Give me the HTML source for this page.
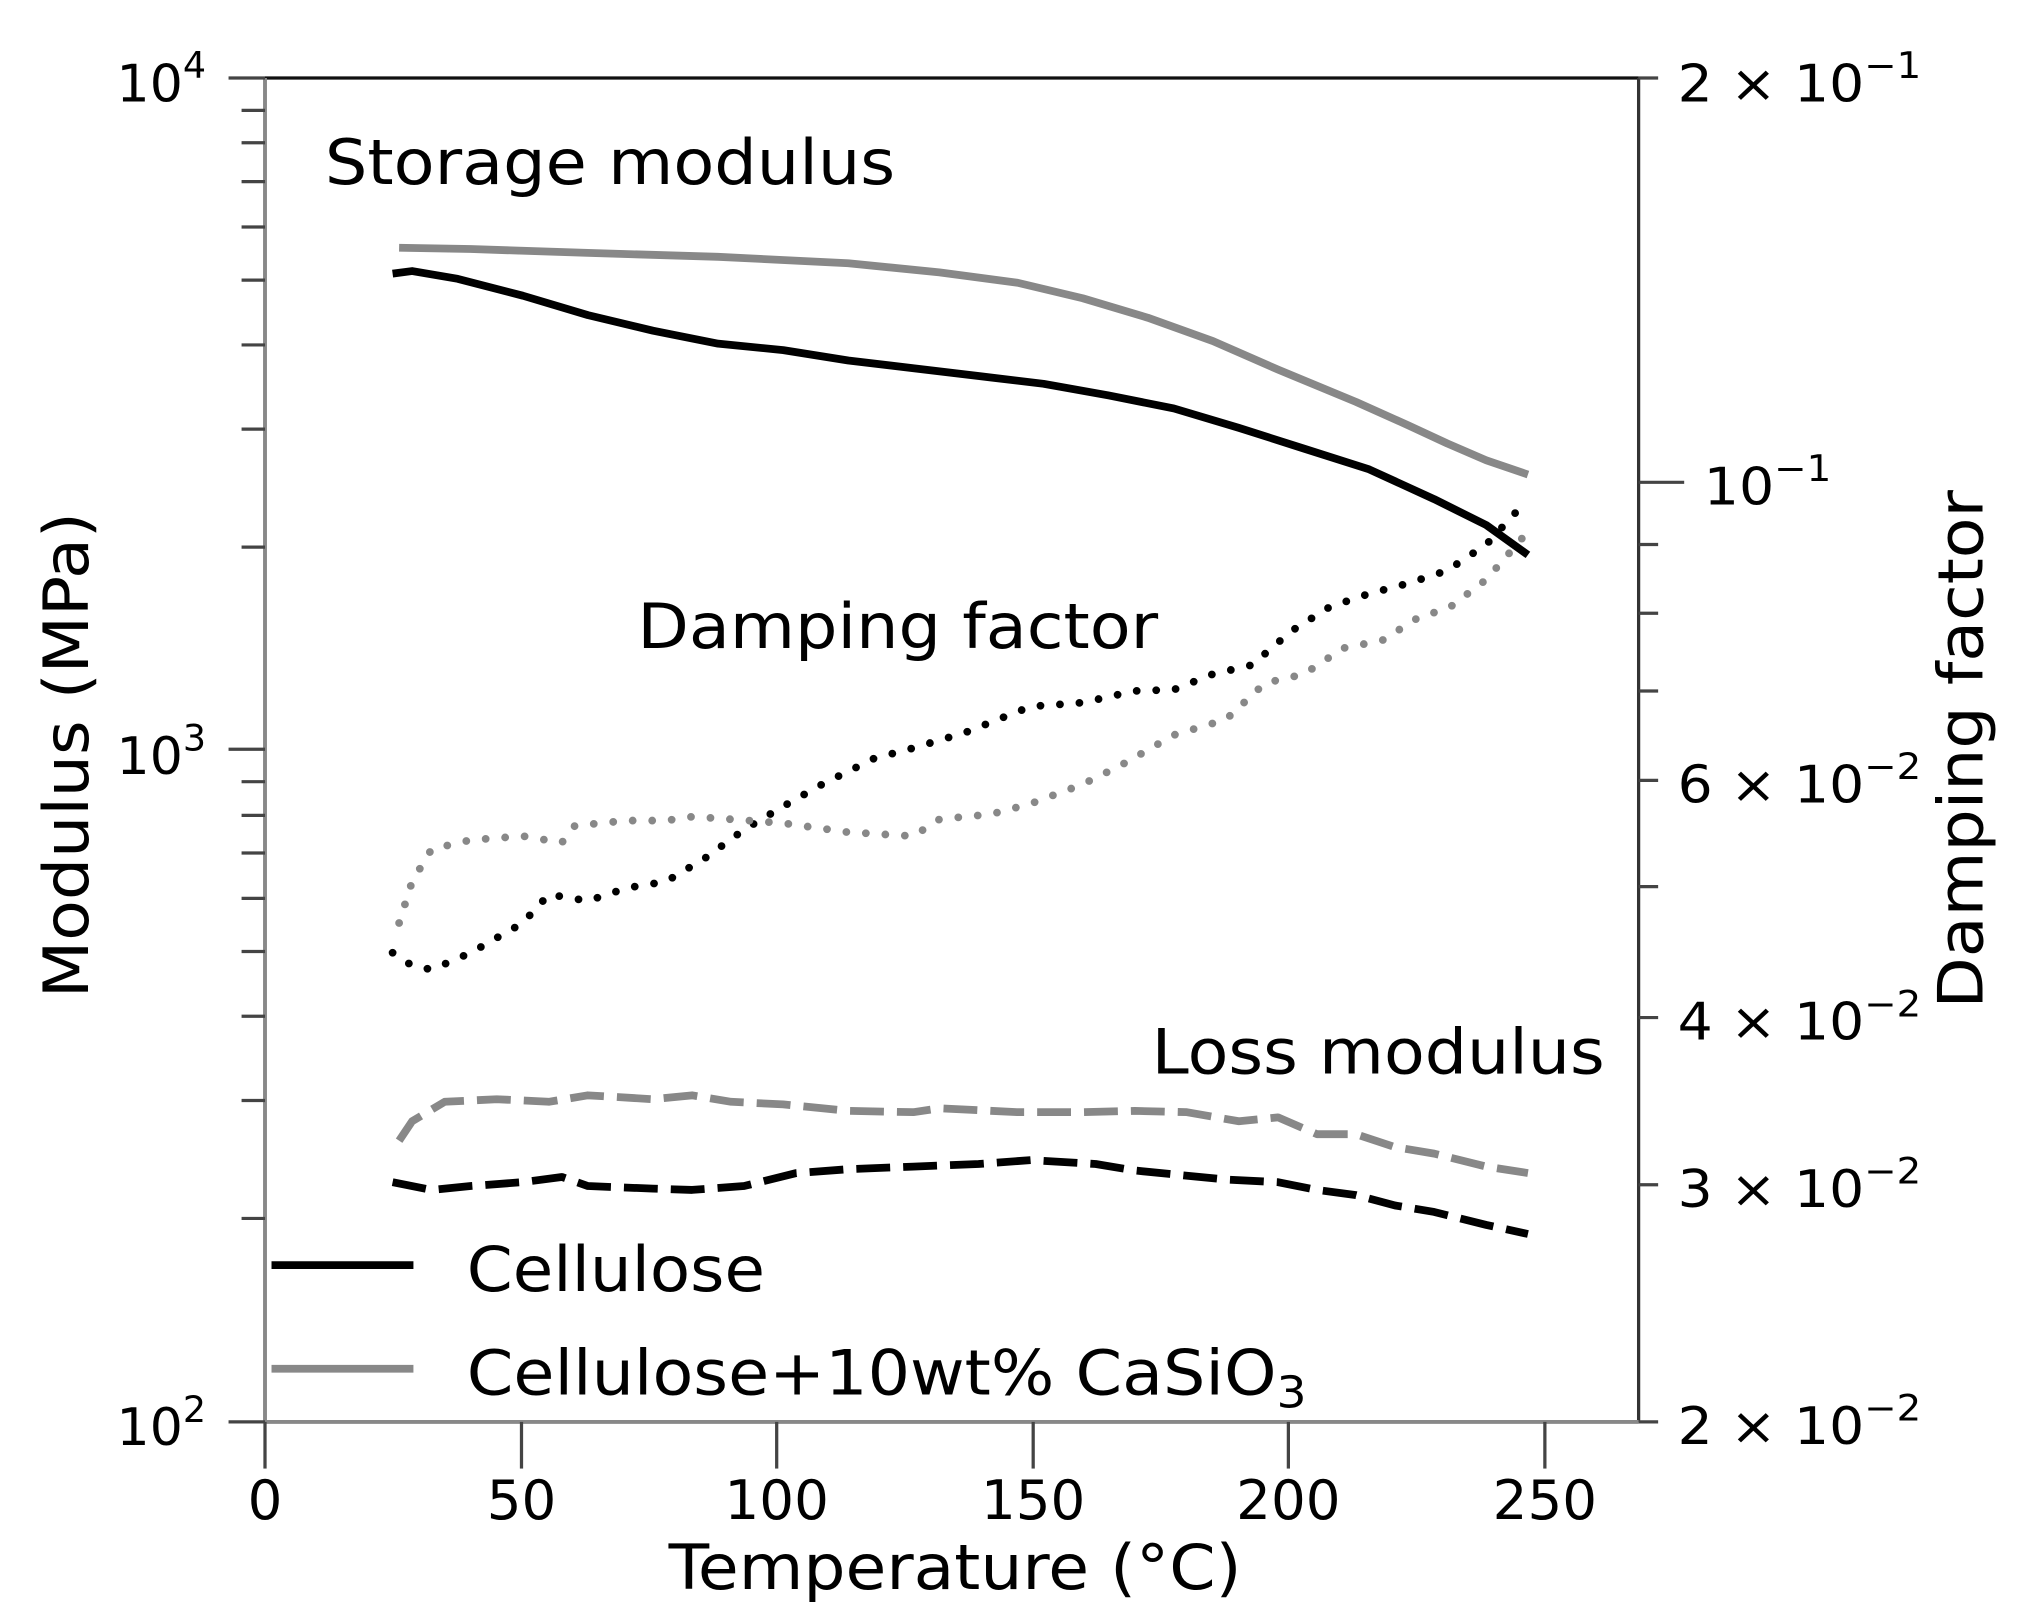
<!DOCTYPE html>
<html><head><meta charset="utf-8"><style>
html,body{margin:0;padding:0;background:#fff;}
svg{display:block;}
text{font-family:"DejaVu Sans","Liberation Sans",sans-serif;fill:#000;}
</style></head><body>
<svg width="2032" height="1613" viewBox="0 0 2032 1613" xmlns="http://www.w3.org/2000/svg">
<g transform="matrix(1.302 0 0 1.296 2 0.2)">
<line x1="202" y1="60" x2="1257" y2="60" stroke="#111" stroke-width="2.5"/>
<line x1="1257" y1="60" x2="1257" y2="1097" stroke="#333" stroke-width="2.5"/>
<line x1="202" y1="60" x2="202" y2="1097" stroke="#888" stroke-width="3"/>
<line x1="202" y1="1097" x2="1257" y2="1097" stroke="#888" stroke-width="3"/>
<g stroke="#444" stroke-width="2.5">
<line x1="174" y1="60" x2="202" y2="60"/><line x1="174" y1="578" x2="202" y2="578"/><line x1="174" y1="1097" x2="202" y2="1097"/>
<line x1="184" y1="85" x2="202" y2="85"/><line x1="184" y1="110" x2="202" y2="110"/><line x1="184" y1="140" x2="202" y2="140"/><line x1="184" y1="175" x2="202" y2="175"/><line x1="184" y1="216" x2="202" y2="216"/><line x1="184" y1="266" x2="202" y2="266"/><line x1="184" y1="331" x2="202" y2="331"/><line x1="184" y1="422" x2="202" y2="422"/>
<line x1="184" y1="603" x2="202" y2="603"/><line x1="184" y1="629" x2="202" y2="629"/><line x1="184" y1="658" x2="202" y2="658"/><line x1="184" y1="693" x2="202" y2="693"/><line x1="184" y1="734" x2="202" y2="734"/><line x1="184" y1="784" x2="202" y2="784"/><line x1="184" y1="849" x2="202" y2="849"/><line x1="184" y1="940" x2="202" y2="940"/>
</g>
<g font-size="40">
<text x="88" y="78">10<tspan dy="-18" font-size="28">4</tspan></text>
<text x="88" y="597">10<tspan dy="-18" font-size="28">3</tspan></text>
<text x="88" y="1115">10<tspan dy="-18" font-size="28">2</tspan></text>
</g>
<g stroke="#444" stroke-width="2.5">
<line x1="1257" y1="60" x2="1272" y2="60"/><line x1="1257" y1="372" x2="1292" y2="372"/><line x1="1257" y1="420" x2="1272" y2="420"/><line x1="1257" y1="473" x2="1272" y2="473"/><line x1="1257" y1="533" x2="1272" y2="533"/><line x1="1257" y1="602" x2="1272" y2="602"/><line x1="1257" y1="684" x2="1272" y2="684"/><line x1="1257" y1="785" x2="1272" y2="785"/><line x1="1257" y1="914" x2="1272" y2="914"/><line x1="1257" y1="1097" x2="1272" y2="1097"/>
</g>
<g font-size="40">
<text x="1287" y="78" textLength="187" lengthAdjust="spacingAndGlyphs">2 × 10<tspan dy="-18" font-size="28">−1</tspan></text>
<text x="1307" y="389" textLength="98" lengthAdjust="spacingAndGlyphs">10<tspan dy="-18" font-size="28">−1</tspan></text>
<text x="1287" y="619" textLength="187" lengthAdjust="spacingAndGlyphs">6 × 10<tspan dy="-18" font-size="28">−2</tspan></text>
<text x="1287" y="802" textLength="187" lengthAdjust="spacingAndGlyphs">4 × 10<tspan dy="-18" font-size="28">−2</tspan></text>
<text x="1287" y="931" textLength="187" lengthAdjust="spacingAndGlyphs">3 × 10<tspan dy="-18" font-size="28">−2</tspan></text>
<text x="1287" y="1114" textLength="187" lengthAdjust="spacingAndGlyphs">2 × 10<tspan dy="-18" font-size="28">−2</tspan></text>
</g>
<g stroke="#444" stroke-width="2.5">
<line x1="202" y1="1097" x2="202" y2="1133"/><line x1="399" y1="1097" x2="399" y2="1133"/><line x1="595" y1="1097" x2="595" y2="1133"/><line x1="792" y1="1097" x2="792" y2="1133"/><line x1="988" y1="1097" x2="988" y2="1133"/><line x1="1185" y1="1097" x2="1185" y2="1133"/>
</g>
<g font-size="42" text-anchor="middle">
<text x="202" y="1172">0</text><text x="399" y="1172">50</text><text x="595" y="1172">100</text><text x="792" y="1172">150</text><text x="988" y="1172">200</text><text x="1185" y="1172">250</text>
</g>
<text x="512" y="1226" font-size="48" textLength="440" lengthAdjust="spacingAndGlyphs">Temperature (°C)</text>
<text transform="translate(66,770) rotate(-90)" font-size="48" textLength="375" lengthAdjust="spacingAndGlyphs">Modulus (MPa)</text>
<text transform="translate(1521,778) rotate(-90)" font-size="48" textLength="400" lengthAdjust="spacingAndGlyphs">Damping factor</text>
<text x="248" y="142" font-size="48" textLength="438" lengthAdjust="spacingAndGlyphs">Storage modulus</text>
<text x="488" y="500" font-size="48" textLength="400" lengthAdjust="spacingAndGlyphs">Damping factor</text>
<text x="883" y="828" font-size="48" textLength="348" lengthAdjust="spacingAndGlyphs">Loss modulus</text>
<g fill="none" stroke-linejoin="round">
<polyline stroke="#888" stroke-width="6" points="305,191 360,192 450,195 550,198 650,203 720,210 780,218 830,230 880,245 930,263 980,285 1040,310 1080,328 1110,342 1140,355 1172,366"/>
<polyline stroke="#000" stroke-width="6" points="300,211 315,209 350,215 400,228 450,243 500,255 550,265 600,270 650,278 700,284 750,290 800,296 850,305 900,315 950,330 1000,346 1050,362 1100,385 1140,405 1172,428"/>
<polyline stroke="#000" stroke-width="6" stroke-linecap="round" stroke-dasharray="0 15" points="300,735 315,745 330,748 360,735 400,712 420,690 450,695 480,685 510,680 540,662 570,640 600,622 630,605 670,585 700,577 740,565 790,545 830,542 870,533 900,532 930,520 960,513 990,487 1020,468 1050,458 1080,450 1110,440 1140,420 1172,385"/>
<polyline stroke="#888" stroke-width="6" stroke-linecap="round" stroke-dasharray="0 15" points="305,712 315,680 330,655 360,648 400,645 430,650 440,637 480,633 510,633 530,630 560,632 600,635 650,642 700,645 720,632 760,628 790,620 830,605 860,590 900,567 940,555 970,527 1000,520 1030,500 1060,494 1090,475 1110,470 1140,447 1172,410"/>
<polyline stroke="#888" stroke-width="6" stroke-dasharray="26 10" points="305,880 315,865 340,850 380,848 420,850 450,845 500,848 530,845 560,850 600,852 650,857 700,858 720,855 780,858 830,858 870,857 910,858 950,865 980,862 1010,875 1040,875 1070,885 1100,890 1140,900 1172,905"/>
<polyline stroke="#000" stroke-width="6" stroke-dasharray="26 10" points="300,912 330,918 360,915 400,912 430,908 450,915 500,917 530,918 570,915 610,905 650,902 700,900 750,898 790,895 840,898 870,903 900,906 940,910 980,912 1010,918 1040,922 1070,930 1100,935 1140,945 1172,952"/>
</g>
<line x1="207" y1="976" x2="316" y2="976" stroke="#000" stroke-width="6"/>
<line x1="207" y1="1056" x2="316" y2="1056" stroke="#888" stroke-width="6"/>
<text x="357" y="996" font-size="48" textLength="229" lengthAdjust="spacingAndGlyphs">Cellulose</text>
<text x="357" y="1076" font-size="48" textLength="645" lengthAdjust="spacingAndGlyphs">Cellulose+10wt% CaSiO<tspan dy="10" font-size="34">3</tspan></text>
</g>
</svg>
</body></html>
